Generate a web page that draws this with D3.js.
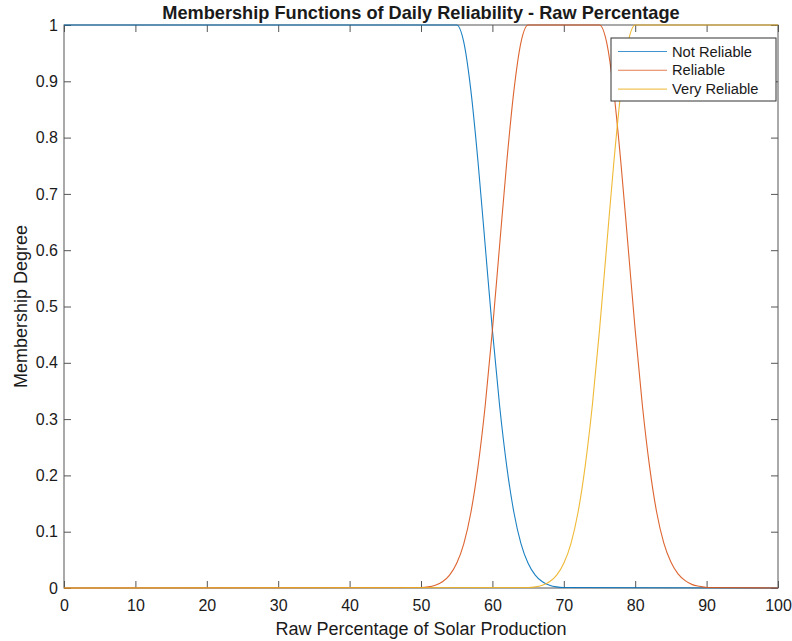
<!DOCTYPE html>
<html>
<head>
<meta charset="utf-8">
<script src="https://cdn.jsdelivr.net/npm/d3@7"></script>
<style>
  body { margin: 0; background: #fff; }
  text { font-family: "Liberation Sans", Arial, Helvetica, sans-serif; fill: #1a1a1a; }
</style>
</head>
<body>
<div id="chart"></div>
<script>
// values
const xTicks = [0, 10, 20, 30, 40, 50, 60, 70, 80, 90, 100];
const yTicks = [0, 0.1, 0.2, 0.3, 0.4, 0.5, 0.6, 0.7, 0.8, 0.9, 1];
const seriesNames = ["Not Reliable", "Reliable", "Very Reliable"];
const seriesColors = ["#0072BD", "#D95319", "#EDB120"];

const notReliableX = [0, 55, 56, 57, 58, 59, 60, 61, 62, 63, 64, 65, 66, 67, 68, 69, 70, 100];
const notReliableY = [1, 1, 0.969, 0.882, 0.755, 0.607, 0.458, 0.325, 0.217, 0.135, 0.079, 0.044, 0.023, 0.011, 0.005, 0.002, 0.001, 0];

const reliableX = [0, 50, 51, 52, 53, 54, 55, 56, 57, 58, 59, 60, 61, 62, 63, 64, 65,
  75, 76, 77, 78, 79, 80, 81, 82, 83, 84, 85, 86, 87, 88, 89, 90, 100];
const reliableY = [0, 0.001, 0.002, 0.005, 0.011, 0.023, 0.044, 0.079, 0.135, 0.217, 0.325, 0.458, 0.607, 0.755, 0.882, 0.969, 1,
  1, 0.969, 0.882, 0.755, 0.607, 0.458, 0.325, 0.217, 0.135, 0.08, 0.046, 0.025, 0.013, 0.006, 0.003, 0.001, 0];

const veryReliableX = [0, 65, 66, 67, 68, 69, 70, 71, 72, 73, 74, 75, 76, 77, 78, 79, 80, 100];
const veryReliableY = [0, 0.001, 0.002, 0.005, 0.011, 0.023, 0.044, 0.079, 0.135, 0.217, 0.325, 0.458, 0.607, 0.755, 0.882, 0.969, 1, 1];

const W = 792, H = 641;
const plotLeft = 64, plotRight = 778, plotTop = 25, plotBottom = 588;
const axisColor = "#555";

const x = d3.scaleLinear().domain([0, 100]).range([plotLeft, plotRight]);
const y = d3.scaleLinear().domain([0, 1]).range([plotBottom, plotTop]);

const svg = d3.select("#chart").append("svg")
  .attr("width", W)
  .attr("height", H);

svg.append("rect")
  .attr("width", W).attr("height", H)
  .attr("fill", "#fff");

// axes, ticks pointing inward on all four sides
function styleAxis(g) {
  g.select(".domain").remove();
  g.selectAll(".tick line").attr("stroke", axisColor);
  g.selectAll(".tick text").attr("font-size", "16px").attr("fill", "#1a1a1a");
}

svg.append("g")
  .attr("transform", "translate(0," + plotBottom + ")")
  .call(d3.axisBottom(x).tickValues(xTicks).tickSizeInner(-7).tickSizeOuter(0).tickPadding(12))
  .call(styleAxis);

svg.append("g")
  .attr("transform", "translate(0," + plotTop + ")")
  .call(d3.axisTop(x).tickValues(xTicks).tickSizeInner(-7).tickSizeOuter(0).tickFormat(""))
  .call(styleAxis);

svg.append("g")
  .attr("transform", "translate(" + plotLeft + ",0)")
  .call(d3.axisLeft(y).tickValues(yTicks).tickSizeInner(-7).tickSizeOuter(0).tickPadding(6)
    .tickFormat(d => d3.format("")(d)))
  .call(styleAxis);

svg.append("g")
  .attr("transform", "translate(" + plotRight + ",0)")
  .call(d3.axisRight(y).tickValues(yTicks).tickSizeInner(-7).tickSizeOuter(0).tickFormat(""))
  .call(styleAxis);

svg.append("rect")
  .attr("x", plotLeft).attr("y", plotTop)
  .attr("width", plotRight - plotLeft).attr("height", plotBottom - plotTop)
  .attr("fill", "none")
  .attr("stroke", axisColor)
  .attr("stroke-width", 1);

// curves
const series = [
  { name: seriesNames[0], color: seriesColors[0], pts: notReliableX.map((v, i) => [v, notReliableY[i]]) },
  { name: seriesNames[1], color: seriesColors[1], pts: reliableX.map((v, i) => [v, reliableY[i]]) },
  { name: seriesNames[2], color: seriesColors[2], pts: veryReliableX.map((v, i) => [v, veryReliableY[i]]) }
];

const line = d3.line()
  .x(d => x(d[0]))
  .y(d => y(d[1]))
  .curve(d3.curveMonotoneX);

svg.selectAll(".curve")
  .data(series)
  .enter().append("path")
  .attr("class", "curve")
  .attr("d", d => line(d.pts))
  .attr("fill", "none")
  .attr("stroke", d => d.color)
  .attr("stroke-opacity", 0.9)
  .attr("stroke-width", 1.1);

// title and labels
svg.append("text")
  .attr("x", (plotLeft + plotRight) / 2).attr("y", 19)
  .attr("text-anchor", "middle")
  .attr("font-size", "18.2px")
  .attr("font-weight", "bold")
  .attr("fill", "#000")
  .text("Membership Functions of Daily Reliability - Raw Percentage");

svg.append("text")
  .attr("x", (plotLeft + plotRight) / 2).attr("y", 635)
  .attr("text-anchor", "middle")
  .attr("font-size", "18px")
  .text("Raw Percentage of Solar Production");

svg.append("text")
  .attr("transform", "translate(27," + ((plotTop + plotBottom) / 2) + ") rotate(-90)")
  .attr("text-anchor", "middle")
  .attr("font-size", "18px")
  .text("Membership Degree");

// legend
const legend = svg.append("g").attr("transform", "translate(611,38)");
legend.append("rect")
  .attr("width", 165).attr("height", 63)
  .attr("fill", "#fff")
  .attr("stroke", "#333")
  .attr("stroke-width", 1);

const item = legend.selectAll(".item")
  .data(series)
  .enter().append("g")
  .attr("class", "item")
  .attr("transform", (d, i) => "translate(0," + (13.5 + i * 18.8) + ")");

item.append("line")
  .attr("x1", 7).attr("x2", 56)
  .attr("stroke", d => d.color)
  .attr("stroke-opacity", 0.75)
  .attr("stroke-width", 1.1);

item.append("text")
  .attr("x", 61).attr("dy", "0.35em")
  .attr("font-size", "14.7px")
  .text(d => d.name);
</script>
</body>
</html>
